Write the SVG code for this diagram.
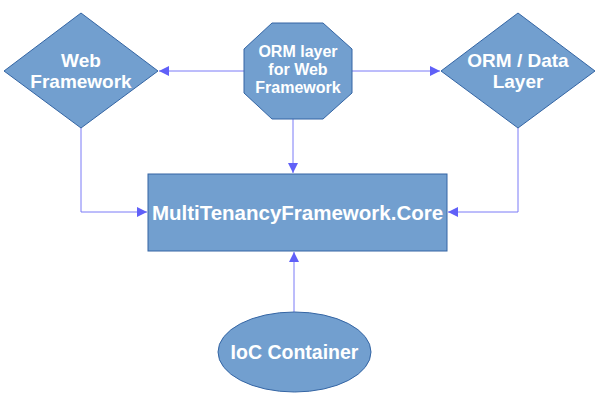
<svg xmlns="http://www.w3.org/2000/svg" width="601" height="408" viewBox="0 0 601 408">
<defs>
<style>
.n{fill:#729fcf;stroke:#3465a4;stroke-width:1}
.t{font-family:"Liberation Sans",Arial,sans-serif;font-weight:bold;fill:#ffffff;text-anchor:middle}
.c{fill:none;stroke:#7b7bf7;stroke-width:1}
</style>
<marker id="a" viewBox="0 0 10 10" refX="10" refY="5" markerWidth="13" markerHeight="10" markerUnits="userSpaceOnUse" orient="auto">
<path d="M0,0 L10,5 L0,10 z" fill="#6060f8"/>
</marker>
</defs>
<rect width="601" height="408" fill="#ffffff"/>
<g id="connectors">
<line class="c" x1="244" y1="71" x2="159" y2="71" marker-end="url(#a)"/>
<line class="c" x1="352" y1="71" x2="440" y2="71" marker-end="url(#a)"/>
<line class="c" x1="293" y1="119" x2="293" y2="173" marker-end="url(#a)"/>
<polyline class="c" points="81,128 81,212 147,212" marker-end="url(#a)"/>
<polyline class="c" points="518,128 518,212 448,212" marker-end="url(#a)"/>
<line class="c" x1="294" y1="312" x2="294" y2="252" marker-end="url(#a)"/>
</g>
<g id="web">
<polygon class="n" points="81,13 158,71 81,128 4,71"/>
<text class="t" font-size="19" x="81" y="67">Web</text>
<text class="t" font-size="19" x="81" y="88">Framework</text>
</g>
<g id="ormweb">
<polygon class="n" points="272,23 323,23 352,49 352,93 323,119 272,119 244,93 244,49"/>
<text class="t" font-size="16" x="298" y="57">ORM layer</text>
<text class="t" font-size="16" x="298" y="75">for Web</text>
<text class="t" font-size="16" x="298" y="93">Framework</text>
</g>
<g id="ormdata">
<polygon class="n" points="518,13 595,71 518,128 441,71"/>
<text class="t" font-size="19" x="518" y="67">ORM / Data</text>
<text class="t" font-size="19" x="518" y="88">Layer</text>
</g>
<g id="core">
<rect class="n" x="148" y="174" width="299" height="77"/>
<text class="t" font-size="20.5" x="297.5" y="220">MultiTenancyFramework.Core</text>
</g>
<g id="ioc">
<ellipse class="n" cx="294.5" cy="352" rx="76.5" ry="40"/>
<text class="t" font-size="19.5" x="294.5" y="359">IoC Container</text>
</g>
</svg>
